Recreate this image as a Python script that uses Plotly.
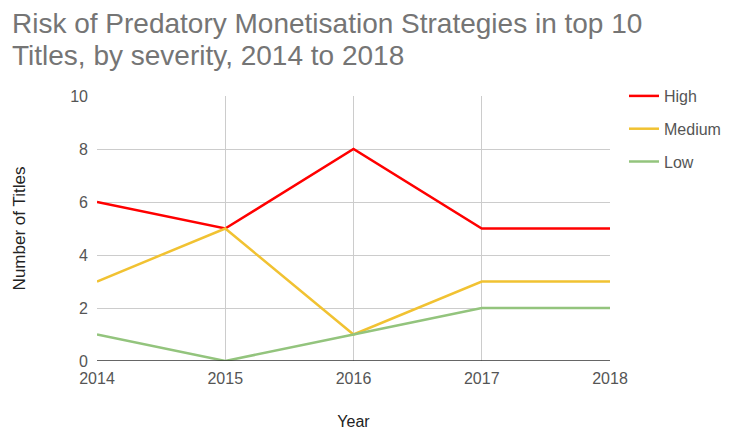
import plotly.graph_objects as go

years = [2014, 2015, 2016, 2017, 2018]
high = [6, 5, 8, 5, 5]
medium = [3, 5, 1, 3, 3]
low = [1, 0, 1, 2, 2]

series = [("High", high, "#ff0000"), ("Medium", medium, "#f1c232"), ("Low", low, "#93c47d")]
title_lines = ["Risk of Predatory Monetisation Strategies in top 10",
               "Titles, by severity, 2014 to 2018"]

L, R, T, B = 97, 122, 96, 69
W, H = 732, 430
PW, PH = W - L - R, H - T - B

def px_x(p):
    return (p - L) / PW

def px_y(p):
    return 1 + (T - p) / PH

fig = go.Figure()
for name, vals, color in series:
    fig.add_trace(go.Scatter(x=years, y=vals, name=name, mode="lines",
                             line=dict(color=color, width=2.5), legendgroup=name))

fig.update_layout(
    width=W, height=H,
    margin=dict(l=L, r=R, t=T, b=B, autoexpand=False),
    paper_bgcolor="white", plot_bgcolor="white",
    font=dict(family="Liberation Sans, Arial, sans-serif", size=16, color="#444"),
    xaxis=dict(range=[2014, 2018], tickvals=years, ticktext=[str(y) for y in years],
               showgrid=True, gridcolor="#cccccc", gridwidth=1, zeroline=False,
               showline=False, ticks="", tickfont=dict(size=16, color="#555"),
               ticklabelstandoff=6, automargin=False,
               title=dict(text="Year", font=dict(size=16, color="#222"), standoff=30)),
    yaxis=dict(range=[0, 10], tickvals=[0, 2, 4, 6, 8, 10],
               showgrid=True, gridcolor="#cccccc", gridwidth=1, zeroline=False,
               showline=False, ticks="", tickfont=dict(size=16, color="#555"),
               ticklabelstandoff=8, automargin=False,
               title=dict(text="Number of Titles", font=dict(size=17, color="#222"), standoff=40)),
    legend=dict(x=px_x(624), xanchor="left", y=px_y(79), yanchor="top",
                font=dict(size=16, color="#555"), tracegroupgap=9,
                itemwidth=30, bgcolor="rgba(0,0,0,0)"),
    showlegend=True,
)
for i, (line, ypix) in enumerate(zip(title_lines, [23, 55])):
    fig.add_annotation(text=line, xref="paper", yref="paper", x=px_x(10), y=px_y(ypix),
                       xanchor="left", yanchor="middle", showarrow=False,
                       font=dict(size=28, color="#757575"))
# baseline at y=0
fig.add_shape(type="line", xref="x", yref="y", x0=2014, x1=2018, y0=0, y1=0,
              line=dict(color="#333333", width=1.5))

fig.write_html("out.html")
